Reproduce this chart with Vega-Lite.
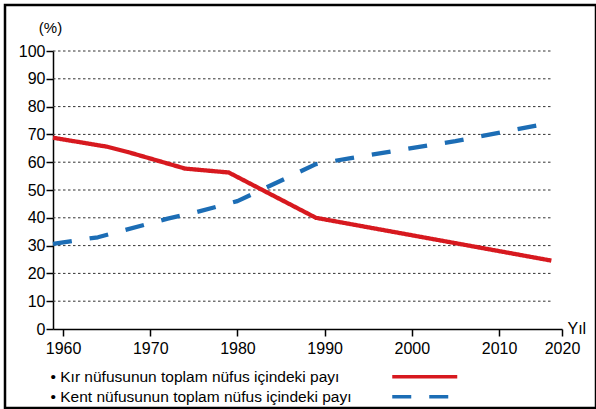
{
  "$schema": "https://vega.github.io/schema/vega-lite/v6.json",
  "width": 591,
  "height": 403,
  "autosize": "none",
  "padding": {"left": 5, "top": 5, "right": 0, "bottom": 1},
  "config": {
    "view": {"stroke": "#000", "strokeWidth": 2.5},
    "font": "Liberation Sans",
    "axis": {"grid": false, "domainColor": "#000", "tickColor": "#000", "labelColor": "#000", "titleColor": "#000"}
  },
  "datasets": {
    "grid": [{"v": 10}, {"v": 20}, {"v": 30}, {"v": 40}, {"v": 50}, {"v": 60}, {"v": 70}, {"v": 80}, {"v": 90}, {"v": 100}],
    "series": [
      {"series": "Kır nüfusunun toplam nüfus içindeki payı", "year": 1958.85, "pct": 68.8},
      {"series": "Kır nüfusunun toplam nüfus içindeki payı", "year": 1965, "pct": 65.6},
      {"series": "Kır nüfusunun toplam nüfus içindeki payı", "year": 1967.5, "pct": 63.6},
      {"series": "Kır nüfusunun toplam nüfus içindeki payı", "year": 1974, "pct": 57.7},
      {"series": "Kır nüfusunun toplam nüfus içindeki payı", "year": 1979, "pct": 56.3},
      {"series": "Kır nüfusunun toplam nüfus içindeki payı", "year": 1989, "pct": 40},
      {"series": "Kır nüfusunun toplam nüfus içindeki payı", "year": 2016, "pct": 24.6},
      {"series": "Kent nüfusunun toplam nüfus içindeki payı", "year": 1958.85, "pct": 30.6},
      {"series": "Kent nüfusunun toplam nüfus içindeki payı", "year": 1964, "pct": 33},
      {"series": "Kent nüfusunun toplam nüfus içindeki payı", "year": 1972, "pct": 39.7},
      {"series": "Kent nüfusunun toplam nüfus içindeki payı", "year": 1975, "pct": 41.8},
      {"series": "Kent nüfusunun toplam nüfus içindeki payı", "year": 1980, "pct": 46},
      {"series": "Kent nüfusunun toplam nüfus içindeki payı", "year": 1989, "pct": 59.3},
      {"series": "Kent nüfusunun toplam nüfus içindeki payı", "year": 1993, "pct": 61.5},
      {"series": "Kent nüfusunun toplam nüfus içindeki payı", "year": 2005, "pct": 67.6},
      {"series": "Kent nüfusunun toplam nüfus içindeki payı", "year": 2016, "pct": 74.2}
    ]
  },
  "layer": [
    {
      "data": {"name": "grid"},
      "mark": {"type": "rule", "strokeDash": [2.5, 2.5], "color": "#333", "strokeWidth": 1},
      "encoding": {
        "y": {"field": "v", "type": "quantitative"},
        "x": {"datum": 1958.85, "type": "quantitative"},
        "x2": {"datum": 2016}
      }
    },
    {
      "data": {"name": "series"},
      "mark": {"type": "line", "strokeWidth": 4.3, "strokeCap": "butt", "strokeJoin": "round"},
      "encoding": {
        "x": {
          "field": "year", "type": "quantitative",
          "scale": {"domain": [1958.85, 2017.22], "range": [48, 557], "nice": false, "zero": false},
          "axis": {
            "values": [1960, 1970, 1980, 1990, 2000, 2010, 2017.22],
            "labelExpr": "datum.value > 2015 ? '2020' : format(datum.value, 'd')",
            "offset": -79, "domainWidth": 1.5, "tickSize": 7, "tickWidth": 1.5,
            "labelFontSize": 16, "labelPadding": 4, "labelFlush": false, "labelOverlap": false,
            "title": "Yıl", "titleX": 562, "titleY": 4, "titleAlign": "left", "titleBaseline": "alphabetic",
            "titleFontWeight": "normal", "titleFontSize": 16
          }
        },
        "y": {
          "field": "pct", "type": "quantitative",
          "scale": {"domain": [0, 100], "range": [324, 46], "nice": false, "zero": false},
          "axis": {
            "values": [0, 10, 20, 30, 40, 50, 60, 70, 80, 90, 100],
            "offset": -48, "domainWidth": 1.5, "tickSize": 7, "tickWidth": 1.5,
            "labelFontSize": 16, "labelPadding": 1,
            "title": "(%)", "titleAngle": 0, "titleX": -3, "titleY": 22, "titleAlign": "center", "titleBaseline": "middle",
            "titleFontWeight": "normal", "titleFontSize": 15
          }
        },
        "color": {
          "field": "series", "type": "nominal",
          "scale": {"domain": ["Kır nüfusunun toplam nüfus içindeki payı", "Kent nüfusunun toplam nüfus içindeki payı"], "range": ["#d7191f", "#1c6db5"]},
          "legend": {
            "orient": "none", "legendX": 412, "legendY": 364, "title": null,
            "symbolType": "M-6.5,0H6.5", "symbolSize": 100, "symbolStrokeWidth": 3.5,
            "labelFontSize": 15.5, "labelColor": "#000", "labelOffset": -382, "labelLimit": 0,
            "rowPadding": 3,
            "labelExpr": "'• ' + datum.label",
            "encode": {
              "symbols": {"update": {"strokeDash": {"signal": "indexof(datum.value, 'Kent') === 0 ? [13, 12.5] : [1, 0]"}}}
            }
          }
        },
        "strokeDash": {
          "field": "series", "type": "nominal",
          "scale": {"domain": ["Kır nüfusunun toplam nüfus içindeki payı", "Kent nüfusunun toplam nüfus içindeki payı"], "range": [[1, 0], [19, 18]]},
          "legend": null
        },
        "order": {"field": "year"}
      }
    }
  ]
}
